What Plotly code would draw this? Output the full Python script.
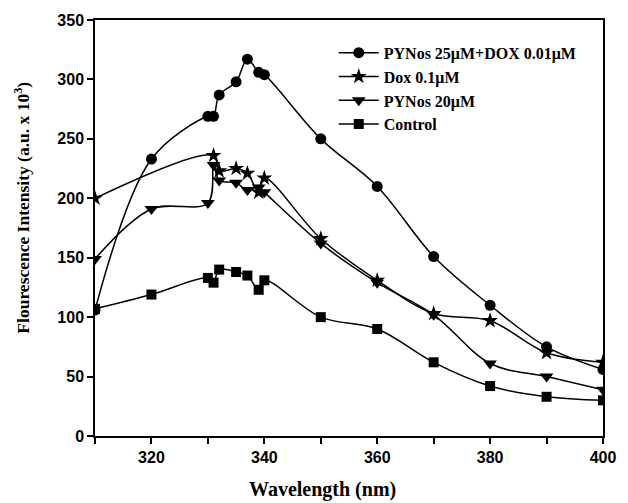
import plotly.graph_objects as go

wl_combo = [310, 320, 330, 331, 332, 335, 337, 339, 340, 350, 360, 370, 380, 390, 400]
combo = [106, 233, 269, 269, 287, 298, 317, 306, 304, 250, 210, 151, 110, 75, 56]

wl_dox = [310, 331, 332, 335, 337, 339, 340, 350, 360, 370, 380, 390, 400]
dox = [200, 236, 223, 225, 221, 205, 217, 166, 131, 103, 97, 70, 62]

wl_pyn = [310, 320, 330, 331, 332, 335, 337, 339, 340, 350, 360, 370, 380, 390, 400]
pyn = [149, 191, 196, 228, 215, 213, 207, 209, 205, 162, 129, 102, 61, 50, 39]

wl_ctrl = [310, 320, 330, 331, 332, 335, 337, 339, 340, 350, 360, 370, 380, 390, 400]
ctrl = [107, 119, 133, 129, 140, 138, 135, 123, 131, 100, 90, 62, 42, 33, 30]

names = ["PYNos 25μM+DOX 0.01μM", "Dox 0.1μM", "PYNos 20μM", "Control"]
symbols = ["circle", "star", "triangle-down", "square"]
sizes = [11, 12, 12, 10]

fig = go.Figure()
for xs, ys, nm, sym, sz in zip([wl_combo, wl_dox, wl_pyn, wl_ctrl],
                               [combo, dox, pyn, ctrl], names, symbols, sizes):
    fig.add_trace(go.Scatter(
        x=xs, y=ys, name=nm, mode="lines+markers",
        line=dict(color="black", width=1.5, shape="spline", smoothing=1.0),
        marker=dict(symbol=sym, size=sz, color="black"),
    ))

axis_common = dict(
    showline=True, linecolor="black", linewidth=1.5, mirror=True,
    ticks="outside", ticklen=6, tickwidth=1.5, tickcolor="black",
    showgrid=False, zeroline=False,
    tickfont=dict(family="Liberation Sans", size=16, color="black", weight="bold"),
)

serif = "Liberation Serif"
fig.update_layout(
    width=628, height=503,
    margin=dict(l=95, r=14, t=18, b=67),
    plot_bgcolor="white", paper_bgcolor="white",
    showlegend=True,
    legend=dict(x=0.47, y=0.962, xanchor="left", yanchor="top",
                bgcolor="rgba(0,0,0,0)", tracegroupgap=0, itemwidth=40,
                font=dict(family=serif, size=16, color="black", weight="bold")),
    xaxis=dict(range=[310, 400], tick0=320, dtick=20,
               minor=dict(ticks="outside", ticklen=6, tickwidth=1.5, tickcolor="black",
                          tick0=310, dtick=10),
               **axis_common),
    yaxis=dict(range=[0, 350], dtick=50, **axis_common),
    annotations=[
        dict(text="Wavelength (nm)", xref="paper", yref="paper",
             x=0.447, y=-0.129, xanchor="center", yanchor="middle", showarrow=False,
             font=dict(family=serif, size=20, color="black", weight="bold")),
        dict(text="Flourescence Intensity (a.u. x 10<sup>3</sup>)", xref="paper", yref="paper",
             x=-0.1445, y=0.548, xanchor="center", yanchor="middle", showarrow=False,
             textangle=-90,
             font=dict(family=serif, size=17.5, color="black", weight="bold")),
    ],
)

fig.write_html("out.html")
